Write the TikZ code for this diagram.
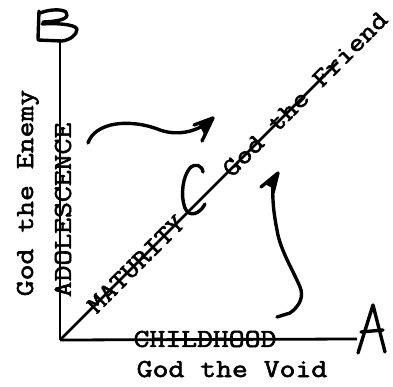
\documentclass[tikz,border=0pt]{standalone}
\usepackage{graphicx}
\usepackage{fontspec}
\newfontfamily\tw{Latin Modern Mono}[FakeBold=2]
\begin{document}
\begin{tikzpicture}[x=1bp,y=-1bp,
  lbl/.style={inner sep=0pt,font=\tw\fontsize{26}{26}\selectfont},
  axis/.style={line width=2.8pt},
  hand/.style={line width=3.4pt,line cap=round,line join=round}]
\useasboundingbox (0,0) rectangle (393,387);
% axes
\coordinate (O) at (60,340);
\coordinate (Aend) at (357,339);
\coordinate (Bend) at (60,42);
\coordinate (Dend) at (338,62);
\draw[axis] (O) -- (Aend);
\draw[axis] (O) -- (Bend);
\draw[axis] (O) -- (Dend);
% letters A and B (hand drawn)
\draw[hand] (358,353) -- (373,305) -- (385,352);
\draw[hand] (361,332) -- (383,330);
\draw[hand] (39,11) -- (38,39);
\draw[hand] (40,13) .. controls (50,9) and (62,9) .. (66,12) .. controls (69,17) and (66,21) .. (43,22);
\draw[hand] (42,24) .. controls (55,23) and (75,24) .. (77,29) .. controls (77,35) and (70,40) .. (62,41) -- (38,40);
% C
\draw[hand] (203,172) .. controls (202,165) and (195,163) .. (190,168) .. controls (183,176) and (180,195) .. (185,208) .. controls (189,218) and (200,214) .. (205,204);
% texts
\node[lbl,rotate=90] (adol) at (63,210) {\scalebox{1.19}[1]{ADOLESCENCE}};
\node[lbl,rotate=90,anchor=base] (enemy) at (33,193) {\scalebox{1.19}[1]{God the Enemy}};
\node[lbl] (child) at (205,339) {\scalebox{1.19}[1]{CHILDHOOD}};
\node[lbl,anchor=base] (void) at (232,377) {\scalebox{1.19}[1]{God the Void}};
\node[lbl,rotate=45] (mat) at (136,264) {\scalebox{1.19}[1]{MATURITY}};
\node[lbl,rotate=45] (friend) at (305,94) {\scalebox{1.19}[1]{God the Friend}};
% arrow 1
\draw[hand] (88,143) .. controls (95,122) and (130,118) .. (160,130) .. controls (180,137) and (200,130) .. (211,120);
\draw[hand] (194,125) -- (213,118) -- (202,141);
\fill (198,123) -- (213,118) -- (204,134) -- cycle;
% arrow 2
\draw[hand] (277,317) -- (290,313) .. controls (300,306) and (304,296) .. (300,287) .. controls (294,272) and (280,250) .. (277,230) .. controls (274,215) and (272,200) .. (273,180);
\draw[hand] (261,187) -- (278,173) -- (273,193);
\fill (265,184) -- (278,173) -- (274,189) -- cycle;
\end{tikzpicture}
\end{document}
